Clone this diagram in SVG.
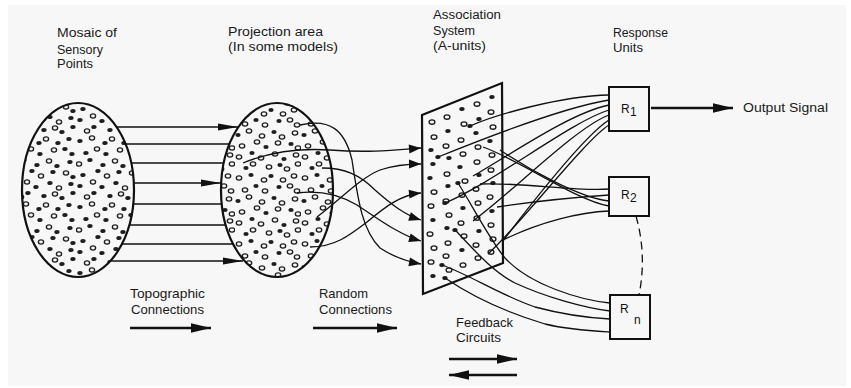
<svg xmlns="http://www.w3.org/2000/svg" width="851" height="388" viewBox="0 0 851 388">
<defs>
<style>
.lbl{font-family:"Liberation Sans",Arial,sans-serif;font-size:12.5px;fill:#1a1a1a}
.blbl{font-family:"Liberation Sans",Arial,sans-serif;font-size:13px;fill:#1a1a1a}
.rl{font-family:"Liberation Sans",Arial,sans-serif;font-size:12px;fill:#111}
.box{fill:none;stroke:#111;stroke-width:2}
.ln{fill:none;stroke:#111;stroke-width:1.3}
.bold{fill:none;stroke:#111;stroke-width:2.4}
.f{fill:#1e1e1e;stroke:none}
.r{fill:none;stroke:#1e1e1e;stroke-width:1.35}
</style>
<marker id="dart" markerUnits="userSpaceOnUse" markerWidth="24" markerHeight="10" viewBox="-22 -5 23 10" refX="0" refY="0" orient="auto"><path d="M0,0 L-20,-3.6 L-20,3.6 Z" fill="#111"/></marker>
<marker id="head" markerUnits="userSpaceOnUse" markerWidth="15" markerHeight="11" viewBox="-14 -5.5 15 11" refX="0" refY="0" orient="auto"><path d="M0,0 L-12,-4.5 L-12,4.5 Z" fill="#111"/></marker>
<marker id="big" markerUnits="userSpaceOnUse" markerWidth="25" markerHeight="12" viewBox="-23 -6 24 12" refX="0" refY="0" orient="auto"><path d="M0,0 L-20,-4.8 L-20,4.8 Z" fill="#111"/></marker>
<pattern id="pat1" patternUnits="userSpaceOnUse" x="10" y="3" width="66" height="66">
<rect width="66" height="66" fill="#f7f7f7"/>
<g fill="none" stroke="#1e1e1e" stroke-width="1.35">
<ellipse cx="16" cy="3" rx="2.6" ry="2.1"/><ellipse cx="36" cy="4" rx="2.6" ry="2.1"/><ellipse cx="21" cy="14" rx="2.6" ry="2.1"/><ellipse cx="44" cy="15" rx="2.6" ry="2.1"/><ellipse cx="3" cy="29" rx="2.6" ry="2.1"/><ellipse cx="39" cy="26" rx="2.6" ry="2.1"/><ellipse cx="31" cy="41" rx="2.6" ry="2.1"/><ellipse cx="56" cy="38" rx="2.6" ry="2.1"/><ellipse cx="17" cy="47" rx="2.6" ry="2.1"/><ellipse cx="49" cy="53" rx="2.6" ry="2.1"/><ellipse cx="11" cy="62" rx="2.6" ry="2.1"/><ellipse cx="45" cy="59" rx="2.6" ry="2.1"/>
</g>
<g fill="#1e1e1e">
<ellipse cx="4" cy="6" rx="2.7" ry="2.1"/><ellipse cx="29" cy="8" rx="2.7" ry="2.1"/><ellipse cx="48" cy="8" rx="2.7" ry="2.1"/><ellipse cx="59" cy="4" rx="2.7" ry="2.1"/><ellipse cx="10" cy="18" rx="2.7" ry="2.1"/><ellipse cx="30" cy="19" rx="2.7" ry="2.1"/><ellipse cx="55" cy="14" rx="2.7" ry="2.1"/><ellipse cx="62" cy="19" rx="2.7" ry="2.1"/><ellipse cx="14" cy="25" rx="2.7" ry="2.1"/><ellipse cx="27" cy="30" rx="2.7" ry="2.1"/><ellipse cx="47" cy="31" rx="2.7" ry="2.1"/><ellipse cx="60" cy="27" rx="2.7" ry="2.1"/><ellipse cx="7" cy="40" rx="2.7" ry="2.1"/><ellipse cx="22" cy="36" rx="2.7" ry="2.1"/><ellipse cx="43" cy="37" rx="2.7" ry="2.1"/><ellipse cx="63" cy="42" rx="2.7" ry="2.1"/><ellipse cx="4" cy="51" rx="2.7" ry="2.1"/><ellipse cx="26" cy="52" rx="2.7" ry="2.1"/><ellipse cx="40" cy="48" rx="2.7" ry="2.1"/><ellipse cx="61" cy="49" rx="2.7" ry="2.1"/><ellipse cx="18" cy="58" rx="2.7" ry="2.1"/><ellipse cx="34" cy="61" rx="2.7" ry="2.1"/><ellipse cx="52" cy="63" rx="2.7" ry="2.1"/><ellipse cx="63" cy="58" rx="2.7" ry="2.1"/>
</g>
</pattern>
<pattern id="pat2" patternUnits="userSpaceOnUse" x="37" y="40" width="66" height="66">
<rect width="66" height="66" fill="#f7f7f7"/>
<g fill="#1e1e1e">
<ellipse cx="16" cy="3" rx="2.6" ry="2"/><ellipse cx="36" cy="4" rx="2.6" ry="2"/><ellipse cx="21" cy="14" rx="2.6" ry="2"/><ellipse cx="44" cy="15" rx="2.6" ry="2"/><ellipse cx="3" cy="29" rx="2.6" ry="2"/><ellipse cx="39" cy="26" rx="2.6" ry="2"/><ellipse cx="31" cy="41" rx="2.6" ry="2"/><ellipse cx="56" cy="38" rx="2.6" ry="2"/><ellipse cx="17" cy="47" rx="2.6" ry="2"/><ellipse cx="49" cy="53" rx="2.6" ry="2"/><ellipse cx="11" cy="62" rx="2.6" ry="2"/><ellipse cx="45" cy="59" rx="2.6" ry="2"/>
</g>
<g fill="none" stroke="#1e1e1e" stroke-width="1.35">
<ellipse cx="4" cy="6" rx="2.7" ry="2.1"/><ellipse cx="29" cy="8" rx="2.7" ry="2.1"/><ellipse cx="48" cy="8" rx="2.7" ry="2.1"/><ellipse cx="59" cy="4" rx="2.7" ry="2.1"/><ellipse cx="10" cy="18" rx="2.7" ry="2.1"/><ellipse cx="30" cy="19" rx="2.7" ry="2.1"/><ellipse cx="55" cy="14" rx="2.7" ry="2.1"/><ellipse cx="62" cy="19" rx="2.7" ry="2.1"/><ellipse cx="14" cy="25" rx="2.7" ry="2.1"/><ellipse cx="27" cy="30" rx="2.7" ry="2.1"/><ellipse cx="47" cy="31" rx="2.7" ry="2.1"/><ellipse cx="60" cy="27" rx="2.7" ry="2.1"/><ellipse cx="7" cy="40" rx="2.7" ry="2.1"/><ellipse cx="22" cy="36" rx="2.7" ry="2.1"/><ellipse cx="43" cy="37" rx="2.7" ry="2.1"/><ellipse cx="63" cy="42" rx="2.7" ry="2.1"/><ellipse cx="4" cy="51" rx="2.7" ry="2.1"/><ellipse cx="26" cy="52" rx="2.7" ry="2.1"/><ellipse cx="40" cy="48" rx="2.7" ry="2.1"/><ellipse cx="61" cy="49" rx="2.7" ry="2.1"/><ellipse cx="18" cy="58" rx="2.7" ry="2.1"/><ellipse cx="34" cy="61" rx="2.7" ry="2.1"/><ellipse cx="52" cy="63" rx="2.7" ry="2.1"/><ellipse cx="63" cy="58" rx="2.7" ry="2.1"/>
</g>
</pattern>
</defs>

<rect width="851" height="388" fill="#ffffff"/>
<rect x="8" y="5" width="838" height="381" fill="#f7f7f7"/>

<g id="node-mosaic">
<ellipse cx="78" cy="190" rx="56" ry="87" fill="url(#pat1)" stroke="#111" stroke-width="2.2"/>
<text class="lbl" x="57" y="37" textLength="60" lengthAdjust="spacingAndGlyphs">Mosaic of</text>
<text class="lbl" x="57" y="54" textLength="46" lengthAdjust="spacingAndGlyphs">Sensory</text>
<text class="lbl" x="57" y="68" textLength="36" lengthAdjust="spacingAndGlyphs">Points</text>
</g>

<g id="node-projection">
<ellipse cx="277" cy="190" rx="56" ry="87" fill="url(#pat2)" stroke="#111" stroke-width="2.2"/>
<text class="lbl" x="228" y="36" textLength="95" lengthAdjust="spacingAndGlyphs">Projection area</text>
<text class="lbl" x="228" y="51" textLength="110" lengthAdjust="spacingAndGlyphs">(In some models)</text>
</g>

<g id="node-association">
<polygon points="422,115 502,83 503,263 423,294" fill="#f7f7f7" stroke="#111" stroke-width="2.2"/>
<g class="r">
<ellipse cx="432" cy="122" rx="2.9" ry="2.2"/><ellipse cx="447" cy="117" rx="2.9" ry="2.2"/><ellipse cx="477" cy="104" rx="2.9" ry="2.2"/>
<ellipse cx="434" cy="137" rx="2.9" ry="2.2"/><ellipse cx="464" cy="124" rx="2.9" ry="2.2"/><ellipse cx="491" cy="112" rx="2.9" ry="2.2"/>
<ellipse cx="446" cy="146" rx="2.9" ry="2.2"/><ellipse cx="461" cy="140" rx="2.9" ry="2.2"/><ellipse cx="493" cy="127" rx="2.9" ry="2.2"/>
<ellipse cx="463" cy="154" rx="2.9" ry="2.2"/><ellipse cx="478" cy="147" rx="2.9" ry="2.2"/>
<ellipse cx="447" cy="174" rx="2.9" ry="2.2"/><ellipse cx="477" cy="162" rx="2.9" ry="2.2"/><ellipse cx="492" cy="155" rx="2.9" ry="2.2"/>
<ellipse cx="434" cy="192" rx="2.9" ry="2.2"/><ellipse cx="465" cy="181" rx="2.9" ry="2.2"/><ellipse cx="491" cy="170" rx="2.9" ry="2.2"/>
<ellipse cx="431" cy="206" rx="2.9" ry="2.2"/><ellipse cx="446" cy="201" rx="2.9" ry="2.2"/><ellipse cx="462" cy="195" rx="2.9" ry="2.2"/><ellipse cx="476" cy="189" rx="2.9" ry="2.2"/>
<ellipse cx="449" cy="215" rx="2.9" ry="2.2"/><ellipse cx="478" cy="203" rx="2.9" ry="2.2"/><ellipse cx="490" cy="197" rx="2.9" ry="2.2"/>
<ellipse cx="430" cy="234" rx="2.9" ry="2.2"/><ellipse cx="461" cy="223" rx="2.9" ry="2.2"/><ellipse cx="477" cy="218" rx="2.9" ry="2.2"/>
<ellipse cx="434" cy="248" rx="2.9" ry="2.2"/><ellipse cx="448" cy="243" rx="2.9" ry="2.2"/><ellipse cx="464" cy="236" rx="2.9" ry="2.2"/><ellipse cx="491" cy="225" rx="2.9" ry="2.2"/>
<ellipse cx="431" cy="262" rx="2.9" ry="2.2"/><ellipse cx="446" cy="256" rx="2.9" ry="2.2"/><ellipse cx="476" cy="245" rx="2.9" ry="2.2"/><ellipse cx="493" cy="239" rx="2.9" ry="2.2"/>
<ellipse cx="449" cy="270" rx="2.9" ry="2.2"/><ellipse cx="463" cy="265" rx="2.9" ry="2.2"/><ellipse cx="478" cy="258" rx="2.9" ry="2.2"/><ellipse cx="491" cy="252" rx="2.9" ry="2.2"/>
</g>
<g class="f">
<ellipse cx="462" cy="109" rx="2.7" ry="2.1"/><ellipse cx="492" cy="97" rx="2.7" ry="2.1"/><ellipse cx="448" cy="131" rx="2.7" ry="2.1"/><ellipse cx="479" cy="119" rx="2.7" ry="2.1"/>
<ellipse cx="431" cy="150" rx="2.7" ry="2.1"/><ellipse cx="476" cy="133" rx="2.7" ry="2.1"/><ellipse cx="433" cy="164" rx="2.7" ry="2.1"/><ellipse cx="449" cy="158" rx="2.7" ry="2.1"/>
<ellipse cx="490" cy="141" rx="2.7" ry="2.1"/><ellipse cx="430" cy="178" rx="2.7" ry="2.1"/><ellipse cx="460" cy="167" rx="2.7" ry="2.1"/><ellipse cx="448" cy="186" rx="2.7" ry="2.1"/>
<ellipse cx="479" cy="175" rx="2.7" ry="2.1"/><ellipse cx="493" cy="183" rx="2.7" ry="2.1"/><ellipse cx="433" cy="220" rx="2.7" ry="2.1"/><ellipse cx="463" cy="208" rx="2.7" ry="2.1"/>
<ellipse cx="447" cy="228" rx="2.7" ry="2.1"/><ellipse cx="492" cy="211" rx="2.7" ry="2.1"/><ellipse cx="479" cy="231" rx="2.7" ry="2.1"/><ellipse cx="462" cy="250" rx="2.7" ry="2.1"/>
<ellipse cx="433" cy="276" rx="2.7" ry="2.1"/><ellipse cx="445" cy="278" rx="2.7" ry="2.1"/><ellipse cx="470" cy="126" rx="2.7" ry="2.1"/><ellipse cx="438" cy="157" rx="2.7" ry="2.1"/>
<ellipse cx="445" cy="203" rx="2.7" ry="2.1"/><ellipse cx="458" cy="183" rx="2.7" ry="2.1"/><ellipse cx="455" cy="230" rx="2.7" ry="2.1"/><ellipse cx="442" cy="265" rx="2.7" ry="2.1"/>
</g>
<text class="lbl" x="433" y="19" textLength="68" lengthAdjust="spacingAndGlyphs">Association</text>
<text class="lbl" x="433" y="35" textLength="42" lengthAdjust="spacingAndGlyphs">System</text>
<text class="lbl" x="433" y="50" textLength="53" lengthAdjust="spacingAndGlyphs">(A-units)</text>
</g>

<g id="node-r1">
<rect x="609" y="87" width="40" height="44" fill="#f7f7f7" class="box"/>
<text class="rl" x="621" y="113">R</text><text class="rl" x="630" y="116" font-size="8">1</text>
<text class="lbl" x="613" y="37" textLength="55" lengthAdjust="spacingAndGlyphs">Response</text>
<text class="lbl" x="613" y="52" textLength="30" lengthAdjust="spacingAndGlyphs">Units</text>
</g>
<g id="node-r2">
<rect x="609" y="177" width="40" height="39" fill="#f7f7f7" class="box"/>
<text class="rl" x="621" y="199">R</text><text class="rl" x="630" y="202" font-size="8">2</text>
</g>
<g id="node-rn">
<rect x="610" y="295" width="40" height="44" fill="#f7f7f7" class="box"/>
<text class="rl" x="620" y="313">R</text><text class="rl" x="634" y="324">n</text>
</g>
<g id="node-output">
<text class="lbl" x="743" y="112" textLength="85" lengthAdjust="spacingAndGlyphs">Output Signal</text>
</g>

<g id="connectors">
<path class="ln" d="M116.6,127 H238" marker-end="url(#dart)"/>
<path class="ln" d="M125.5,144 H229.5"/>
<path class="ln" d="M131.2,163 H223.8"/>
<path class="ln" d="M133.8,183 H221" marker-end="url(#dart)"/>
<path class="ln" d="M133.3,204 H221.7"/>
<path class="ln" d="M129.3,225 H225.7"/>
<path class="ln" d="M121.9,244 H233.1"/>
<path class="ln" d="M110.4,261 H243" marker-end="url(#dart)"/>
<path class="ln" d="M243,163 C270,152 300,148 330,150 C370,153 395,150 421,148" marker-end="url(#head)"/>
<path class="ln" d="M317,217 C340,200 360,178 380,170 C395,165 408,164 421,164" marker-end="url(#head)"/>
<path class="ln" d="M310,247 C335,247 350,235 367,222 C385,207 400,195 421,193" marker-end="url(#head)"/>
<path class="ln" d="M322,168 C345,168 360,175 375,190 C392,205 405,215 421,220" marker-end="url(#head)"/>
<path class="ln" d="M297,193 C320,190 340,195 357,205 C380,220 400,235 421,241" marker-end="url(#head)"/>
<path class="ln" d="M300,125 C330,118 345,130 352,160 C358,200 362,230 380,248 C395,258 410,262 421,264" marker-end="url(#head)"/>
<path class="ln" d="M470,126 C495,115 560,96 609,95"/>
<path class="ln" d="M438,157 C480,140 560,108 609,100"/>
<path class="ln" d="M473,176 C510,155 570,113 609,105"/>
<path class="ln" d="M445,203 C495,182 570,122 609,110"/>
<path class="ln" d="M473,221 C515,190 575,128 609,115"/>
<path class="ln" d="M503,241 C530,205 585,135 609,120"/>
<path class="ln" d="M488,254 C520,225 585,140 609,125"/>
<path class="ln" d="M483,147 C520,160 575,200 609,206"/>
<path class="ln" d="M500,150 C530,170 580,198 609,201"/>
<path class="ln" d="M480,184 C520,182 580,192 609,189"/>
<path class="ln" d="M497,207 C530,202 580,197 609,195"/>
<path class="ln" d="M503,240 C540,222 580,212 609,211"/>
<path class="ln" d="M458,183 C472,205 490,240 505,258 C530,285 580,300 610,303"/>
<path class="ln" d="M455,230 C470,245 490,270 515,283 C545,297 585,308 610,311"/>
<path class="ln" d="M442,265 C470,275 500,295 535,307 C565,315 590,318 610,319"/>
<path class="ln" d="M445,278 C470,295 505,312 545,324 C570,330 592,331 610,332"/>
<path class="ln" d="M636,216 Q647,255 639,295" stroke-dasharray="8,5"/>
<path class="bold" d="M651,108 H733" marker-end="url(#big)"/>
<path class="bold" d="M130,328 H211" marker-end="url(#big)"/>
<path class="bold" d="M313,328 H397" marker-end="url(#big)"/>
<path class="bold" d="M449,359 H517" marker-end="url(#big)"/>
<path class="bold" d="M517,375 H449" marker-end="url(#big)"/>
</g>

<g id="legend">
<text class="blbl" x="130" y="298" textLength="75" lengthAdjust="spacingAndGlyphs">Topographic</text>
<text class="blbl" x="131" y="314" textLength="73" lengthAdjust="spacingAndGlyphs">Connections</text>
<text class="blbl" x="319" y="298" textLength="49" lengthAdjust="spacingAndGlyphs">Random</text>
<text class="blbl" x="319" y="314" textLength="73" lengthAdjust="spacingAndGlyphs">Connections</text>
<text class="blbl" x="456" y="327" font-size="12px" textLength="57" lengthAdjust="spacingAndGlyphs">Feedback</text>
<text class="blbl" x="456" y="342" font-size="12px" textLength="45" lengthAdjust="spacingAndGlyphs">Circuits</text>
</g>
</svg>
